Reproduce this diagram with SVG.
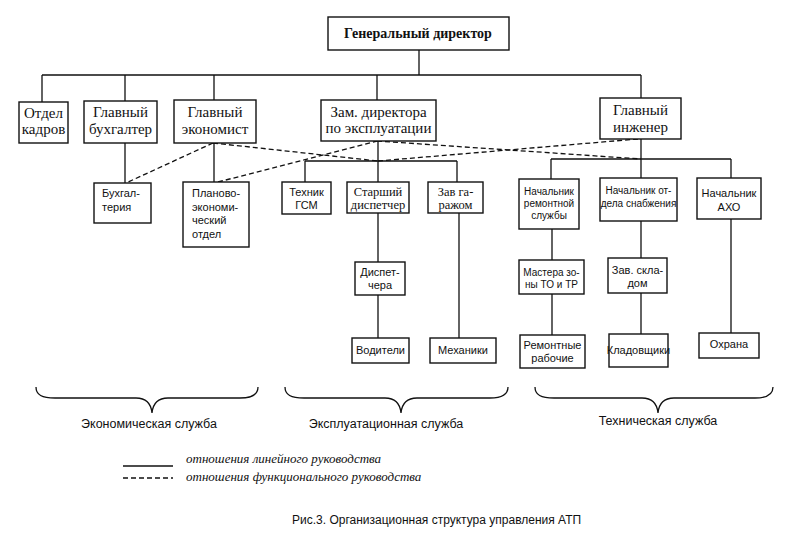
<svg xmlns="http://www.w3.org/2000/svg" width="787" height="538" viewBox="0 0 787 538">
<style>
.box{fill:#fff;stroke:#111;stroke-width:1.4}
.ln{fill:none;stroke:#111;stroke-width:1.3}
.dash{fill:none;stroke:#111;stroke-width:1.3;stroke-dasharray:5 3}
.t1{font-family:"Liberation Serif","Times New Roman",serif;font-size:15px;fill:#111;text-anchor:middle}
.tb{font-family:"Liberation Serif","Times New Roman",serif;font-size:14px;font-weight:bold;fill:#111;text-anchor:middle}
.t2{font-family:"Liberation Sans",Arial,sans-serif;font-size:11px;fill:#111;text-anchor:middle}
.t3{font-family:"Liberation Sans",Arial,sans-serif;font-size:10px;fill:#111;text-anchor:middle}
.t2l{font-family:"Liberation Sans",Arial,sans-serif;font-size:11px;fill:#111}
.t2s{font-family:"Liberation Serif","Times New Roman",serif;font-size:12.5px;fill:#111;text-anchor:middle}
.sv{font-family:"Liberation Sans",Arial,sans-serif;font-size:12.5px;fill:#111;text-anchor:middle}
.lg{font-family:"Liberation Serif","Times New Roman",serif;font-size:13px;font-style:italic;fill:#111}
.cap{font-family:"Liberation Sans",Arial,sans-serif;font-size:12px;fill:#111}
</style>

<g id="connectors">
  <path class="ln" d="M419,50 V75 M42,75 H641 M42,75 V102 M125,75 V101 M214,75 V100 M377,75 V100 M641,75 V98"/>
  <path class="ln" d="M125,143 V183 M214,143 V182"/>
  <path class="ln" d="M378,141 V182 M305,161 H457 M305,161 V182 M457,161 V182"/>
  <path class="ln" d="M378,213 V262 M378,295 V338 M459,213 V338"/>
  <path class="ln" d="M641,139 V178 M551,159 H731 M551,159 V179 M731,159 V178"/>
  <path class="ln" d="M552,229 V260 M552,294 V335 M641,221 V258 M641,293 V334 M731,219 V333"/>
  <path class="dash" d="M213,143 L126,183"/>
  <path class="dash" d="M213,143 L378,161"/>
  <path class="dash" d="M218,182 L377,141"/>
  <path class="dash" d="M377,141 L641,159"/>
  <path class="dash" d="M378,161 L638,139"/>
</g>

<g id="gen-director">
  <rect class="box" x="328" y="17" width="181" height="33"/>
  <text class="tb" x="418" y="38">Генеральный директор</text>
</g>
<g id="otdel-kadrov">
  <rect class="box" x="19" y="102" width="49" height="41"/>
  <text class="t1" x="43.5" y="118">Отдел</text>
  <text class="t1" x="43.5" y="134">кадров</text>
</g>
<g id="gl-buhgalter">
  <rect class="box" x="84" y="101" width="73" height="42"/>
  <text class="t1" x="120.5" y="117">Главный</text>
  <text class="t1" x="120.5" y="134">бухгалтер</text>
</g>
<g id="gl-ekonomist">
  <rect class="box" x="174" y="100" width="82" height="43"/>
  <text class="t1" x="215" y="117">Главный</text>
  <text class="t1" x="215" y="134">экономист</text>
</g>
<g id="zam-director">
  <rect class="box" x="321" y="100" width="115" height="41"/>
  <text class="t1" x="378.5" y="117">Зам. директора</text>
  <text class="t1" x="378.5" y="133">по эксплуатации</text>
</g>
<g id="gl-inzhener">
  <rect class="box" x="600" y="98" width="81" height="41"/>
  <text class="t1" x="640.5" y="115">Главный</text>
  <text class="t1" x="640.5" y="132">инженер</text>
</g>

<g id="buhgalteria">
  <rect class="box" x="94" y="183" width="57" height="40"/>
  <text class="t2l" x="102" y="197">Бухгал-</text>
  <text class="t2l" x="102" y="211">терия</text>
</g>
<g id="plan-ekon-otdel">
  <rect class="box" x="183" y="182" width="66" height="65"/>
  <text class="t2l" x="192" y="197">Планово-</text>
  <text class="t2l" x="192" y="211">экономи-</text>
  <text class="t2l" x="192" y="224">ческий</text>
  <text class="t2l" x="192" y="238">отдел</text>
</g>
<g id="tehnik-gsm">
  <rect class="box" x="282" y="182" width="49" height="32"/>
  <text class="t2" x="306.5" y="196">Техник</text>
  <text class="t2" x="306.5" y="209">ГСМ</text>
</g>
<g id="st-dispetcher">
  <rect class="box" x="347" y="182" width="62" height="31"/>
  <text class="t2s" x="378" y="196">Старший</text>
  <text class="t2s" x="378" y="209">диспетчер</text>
</g>
<g id="zav-garazhom">
  <rect class="box" x="428" y="182" width="55" height="31"/>
  <text class="t2s" x="455.5" y="196">Зав  га-</text>
  <text class="t2s" x="455.5" y="209">ражом</text>
</g>
<g id="nach-remont">
  <rect class="box" x="519" y="179" width="60" height="50"/>
  <text class="t3" x="549" y="195">Начальник</text>
  <text class="t3" x="549" y="207">ремонтной</text>
  <text class="t3" x="549" y="219">службы</text>
</g>
<g id="nach-snabzh">
  <rect class="box" x="600" y="178" width="77" height="43"/>
  <text class="t3" x="638.5" y="194">Начальник от-</text>
  <text class="t3" x="638.5" y="207">дела снабжения</text>
</g>
<g id="nach-aho">
  <rect class="box" x="697" y="178" width="64" height="41"/>
  <text class="t2" x="729" y="197">Начальник</text>
  <text class="t2" x="729" y="211">АХО</text>
</g>

<g id="dispetchera">
  <rect class="box" x="355" y="262" width="50" height="33"/>
  <text class="t2" x="380" y="276">Диспет-</text>
  <text class="t2" x="380" y="289">чера</text>
</g>
<g id="voditeli">
  <rect class="box" x="352" y="338" width="57" height="25"/>
  <text class="t2" x="380.5" y="354">Водители</text>
</g>
<g id="mehaniki">
  <rect class="box" x="430" y="338" width="66" height="25"/>
  <text class="t2" x="463" y="354">Механики</text>
</g>
<g id="mastera">
  <rect class="box" x="519" y="260" width="65" height="34"/>
  <text class="t3" x="551.5" y="276">Мастера зо-</text>
  <text class="t3" x="551.5" y="288">ны ТО и ТР</text>
</g>
<g id="zav-skladom">
  <rect class="box" x="608" y="258" width="59" height="35"/>
  <text class="t2" x="637.5" y="274">Зав. скла-</text>
  <text class="t2" x="637.5" y="287">дом</text>
</g>
<g id="rem-rabochie">
  <rect class="box" x="520" y="335" width="65" height="33"/>
  <text class="t2" x="552.5" y="349">Ремонтные</text>
  <text class="t2" x="552.5" y="362">рабочие</text>
</g>
<g id="kladovshiki">
  <rect class="box" x="609" y="334" width="59" height="33"/>
  <text class="t2" x="638.5" y="354" font-size="10.5">Кладовщики</text>
</g>
<g id="ohrana">
  <rect class="box" x="699" y="333" width="60" height="25"/>
  <text class="t2" x="729" y="348">Охрана</text>
</g>

<g id="braces">
  <path class="ln" d="M36,387 C36,395 42,398 55,398 L136,398 C146,398 151,403 152,413 C153,403 158,398 168,398 L240,398 C252,398 258,395 258,387"/>
  <path class="ln" d="M285,387 C285,395 291,398 304,398 L385,398 C395,398 400,403 401,413 C402,403 407,398 417,398 L490,398 C502,398 508,395 508,387"/>
  <path class="ln" d="M535,387 C535,395 541,398 554,398 L642,398 C652,398 657,403 658,413 C659,403 664,398 674,398 L755,398 C767,398 773,395 773,387"/>
  <text class="sv" x="149" y="428">Экономическая служба</text>
  <text class="sv" x="386" y="428">Эксплуатационная служба</text>
  <text class="sv" x="658" y="425">Техническая служба</text>
</g>

<g id="legend">
  <line class="ln" x1="123" y1="466" x2="173" y2="466"/>
  <line class="dash" x1="123" y1="478" x2="173" y2="478"/>
  <text class="lg" x="186" y="463">отношения линейного руководства</text>
  <text class="lg" x="186" y="481">отношения функционального руководства</text>
</g>

<text class="cap" x="292" y="524">Рис.3. Организационная структура управления АТП</text>
</svg>
